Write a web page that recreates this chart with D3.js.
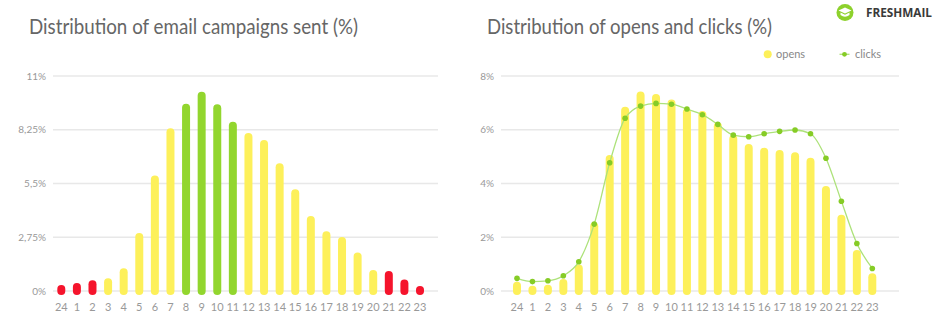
<!DOCTYPE html>
<html><head><meta charset="utf-8">
<script src="https://cdn.jsdelivr.net/npm/d3@7"></script>
<style>
html,body{margin:0;padding:0;background:#fff;}
svg{display:block;font-family:Lato,"Open Sans",sans-serif;}
</style></head>
<body>
<svg id="c" width="940" height="329"></svg>
<script>
const hours = ["24","1","2","3","4","5","6","7","8","9","10","11","12","13","14","15","16","17","18","19","20","21","22","23"];
const campaigns = [0.1,0.2,0.35,0.45,0.96,2.76,5.71,8.12,9.38,9.99,9.35,8.46,7.88,7.52,6.33,5.0,3.63,2.85,2.56,1.77,0.87,0.82,0.38,0.05];
const campaignColor = ["red","red","red","yellow","yellow","yellow","yellow","yellow","green","green","green","green","yellow","yellow","yellow","yellow","yellow","yellow","yellow","yellow","yellow","red","red","red"];
const opens = [0.2,0.05,0.08,0.3,0.84,2.41,4.91,6.71,7.27,7.18,6.98,6.65,6.55,6.13,5.66,5.32,5.18,5.10,5.01,4.81,3.76,2.69,1.38,0.51];
const clicks = [0.47,0.35,0.38,0.57,1.09,2.49,4.77,6.43,6.88,6.98,6.95,6.77,6.56,6.2,5.8,5.74,5.85,5.94,5.99,5.85,4.94,3.34,1.77,0.84];
const leftTicks = [0,2.75,5.5,8.25,11];
const leftTickLabels = ["0%","2,75%","5,5%","8,25%","11%"];
const rightTicks = [0,2,4,6,8];
const rightTickLabels = ["0%","2%","4%","6%","8%"];
const titles = ["Distribution of email campaigns sent (%)","Distribution of opens and clicks (%)"];
const legendLabels = ["opens","clicks"];

const COL = {yellow:"#fdf05a", green:"#92d62e", red:"#f5142c", grid:"#e8e8e8", tick:"#999", title:"#666", line:"#ade27a", dot:"#86cc26"};
const svg = d3.select("#c");
const barW = 8;

function panel(opt){
  const g = svg.append("g");
  const y = d3.scaleLinear().domain([0, opt.max]).range([291, 76]);
  const x = d3.scalePoint().domain(hours).range(opt.xr);
  g.selectAll(".grid").data(opt.ticks).join("line")
    .attr("x1", opt.gx[0]).attr("x2", opt.gx[1])
    .attr("y1", d=>y(d)).attr("y2", d=>y(d))
    .attr("stroke", COL.grid).attr("stroke-width", 1.5);
  g.selectAll(".yl").data(opt.ticks).join("text")
    .attr("x", opt.gx[0]-7).attr("y", d=>y(d)).attr("dy","0.35em")
    .attr("text-anchor","end").attr("font-size",10).attr("fill",COL.tick)
    .text((d,i)=>opt.labels[i]);
  g.selectAll(".xl").data(hours).join("text")
    .attr("x", d=>x(d)).attr("y", 311)
    .attr("text-anchor","middle").attr("font-size",11).attr("fill",COL.tick)
    .text(d=>d);
  g.append("text").attr("x", opt.tx).attr("y", 33.5)
    .attr("font-size", 20.5).attr("font-weight",400).attr("fill", COL.title)
    .attr("textLength", opt.tw).attr("lengthAdjust","spacingAndGlyphs")
    .text(opt.title);
  return {g,x,y};
}

const L = panel({max:11, xr:[61.3,420], gx:[53,438], ticks:leftTicks, labels:leftTickLabels, tx:29, tw:329, title:titles[0]});
L.g.selectAll(".bar").data(campaigns).join("line")
  .attr("x1",(d,i)=>L.x(hours[i])).attr("x2",(d,i)=>L.x(hours[i]))
  .attr("y1", L.y(0)).attr("y2", d=>L.y(d))
  .attr("stroke",(d,i)=>COL[campaignColor[i]]).attr("stroke-width",barW).attr("stroke-linecap","round");

const R = panel({max:8, xr:[517,872.3], gx:[501,899], ticks:rightTicks, labels:rightTickLabels, tx:487, tw:285, title:titles[1]});
R.g.selectAll(".bar").data(opens).join("line")
  .attr("x1",(d,i)=>R.x(hours[i])).attr("x2",(d,i)=>R.x(hours[i]))
  .attr("y1", R.y(0)).attr("y2", d=>R.y(d))
  .attr("stroke",COL.yellow).attr("stroke-width",barW).attr("stroke-linecap","round");
const line = d3.line().x((d,i)=>R.x(hours[i])).y(d=>R.y(d)).curve(d3.curveMonotoneX);
R.g.append("path").datum(clicks).attr("d", line).attr("fill","none")
  .attr("stroke", COL.line).attr("stroke-width",1.3);
R.g.selectAll(".dot").data(clicks).join("circle")
  .attr("cx",(d,i)=>R.x(hours[i])).attr("cy",d=>R.y(d)).attr("r",2.8).attr("fill",COL.dot);

const lg = svg.append("g");
lg.append("circle").attr("cx",767.7).attr("cy",54.3).attr("r",4).attr("fill",COL.yellow);
lg.append("text").attr("x",776).attr("y",54.3).attr("dy","0.35em").attr("font-size",11).attr("fill","#888").text(legendLabels[0]);
lg.append("line").attr("x1",839.5).attr("x2",849.5).attr("y1",54.3).attr("y2",54.3).attr("stroke",COL.line).attr("stroke-width",1.3);
lg.append("circle").attr("cx",844.5).attr("cy",54.3).attr("r",2.4).attr("fill",COL.dot);
lg.append("text").attr("x",855).attr("y",54.3).attr("dy","0.35em").attr("font-size",11).attr("fill","#888").text(legendLabels[1]);

const logo = svg.append("g");
logo.append("circle").attr("cx",845).attr("cy",12.5).attr("r",8.5).attr("fill","#8dd12c");
logo.append("path").attr("d","M838.5,10.5 L845,7.5 L851.5,10.5 L845,13.5 Z").attr("fill","#fff");
logo.append("path").attr("d","M840.5,12.5 L840.5,15 Q845,18.5 849.5,15 L849.5,12.5 L845,14.8 Z").attr("fill","#fff");
logo.append("text").attr("x",866).attr("y",17).attr("font-family","'Open Sans',sans-serif").attr("font-weight",700)
  .attr("font-size",12).attr("fill","#3a3a3a").attr("textLength",66).attr("lengthAdjust","spacingAndGlyphs").text("FRESHMAIL");
</script>
</body></html>
